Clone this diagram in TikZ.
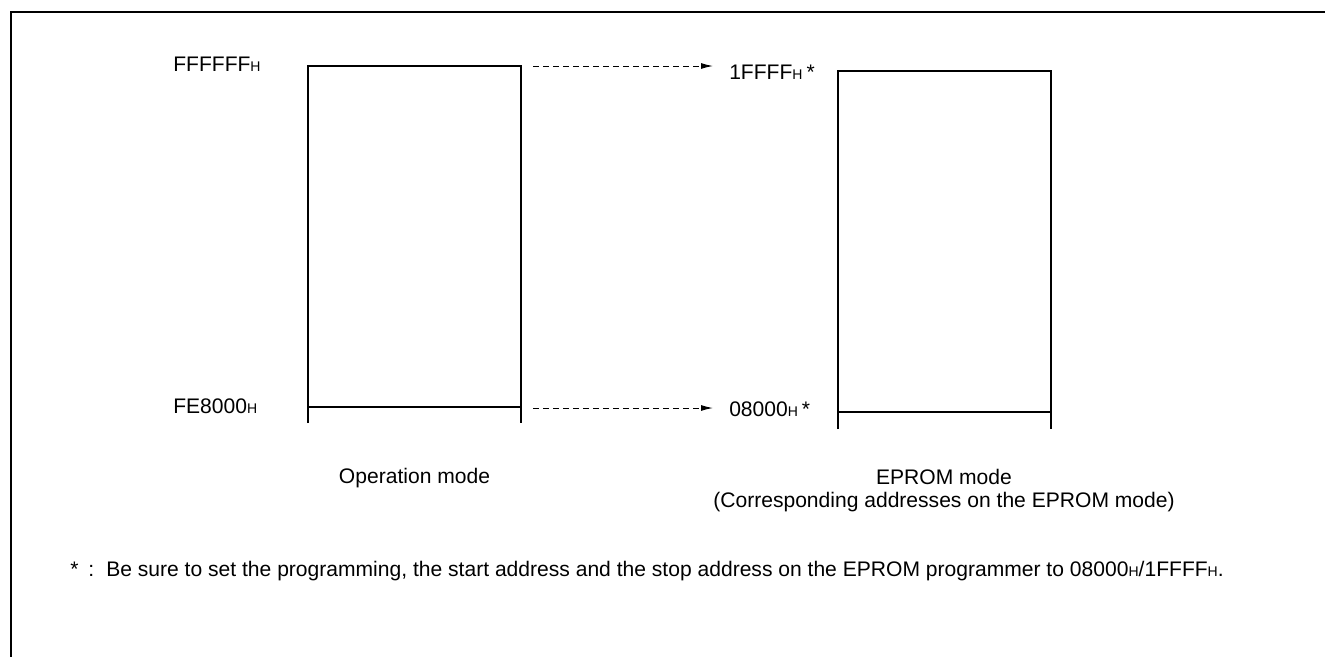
\documentclass[tikz,border=0pt]{standalone}
\usepackage{fontspec}
\setmainfont{Liberation Sans}
\usetikzlibrary{arrows.meta}
\newcommand{\subH}{{\fontsize{10.5pt}{10.5pt}\selectfont H}}
\begin{document}
\begin{tikzpicture}[x=0.75pt,y=-0.75pt,
  lbl/.style={font=\fontsize{15.8pt}{17.25pt}\selectfont, inner sep=0pt, anchor=base west},
  captext/.style={font=\fontsize{15.8pt}{17.25pt}\selectfont, inner sep=0pt, anchor=base, align=center},
  thickline/.style={line width=1.9pt},
  thinline/.style={line width=0.9pt},
  frameline/.style={line width=1.1pt},
  dasharrow/.style={dash pattern=on 4.5pt off 3pt, line width=0.75pt, -{Latex[length=9pt,width=4.5pt]}}]
\useasboundingbox (0,0) rectangle (1325,657);
% frame
\coordinate (fr1) at (1325,12);
\coordinate (fr2) at (11,12);
\coordinate (fr3) at (11,657);
\draw[frameline] (fr1) -- (fr2) -- (fr3);
% left memory block
\coordinate (lbl1) at (308,423);
\coordinate (ltl) at (308,66);
\coordinate (ltr) at (521,66);
\coordinate (lbr) at (521,423);
\coordinate (lml) at (308,407);
\coordinate (lmr) at (521,407);
\draw[thickline] (lbl1) -- (ltl) -- (ltr) -- (lbr);
\draw[thinline] (lml) -- (lmr);
% right memory block
\coordinate (rbl) at (838,429);
\coordinate (rtl) at (838,71);
\coordinate (rtr) at (1051,71);
\coordinate (rbr) at (1051,429);
\coordinate (rml) at (838,412);
\coordinate (rmr) at (1051,412);
\draw[thickline] (rbl) -- (rtl) -- (rtr) -- (rbr);
\draw[thinline] (rml) -- (rmr);
% address labels
\node[lbl] (ffffff) at (173,71) {FFFFFF\subH};
\node[lbl] (fe8000) at (173,413) {FE8000\subH};
\node[lbl] (t1ffff) at (729,79) {1FFFF\subH\hspace{3pt}*};
\node[lbl] (t08000) at (729,416) {08000\subH\hspace{3pt}*};
% dashed arrows
\coordinate (a1s) at (533,66);
\coordinate (a2s) at (533,408);
\draw[dasharrow, shorten >=12pt] (a1s) -- (a1s -| t1ffff.west);
\draw[dasharrow, shorten >=12pt] (a2s) -- (a2s -| t08000.west);
% captions
\node[captext] (opmode) at (414.5,483) {Operation mode};
\node[captext] (epmode) at (944,507) {EPROM mode\\(Corresponding addresses on the EPROM mode)};
% footnote
\node[lbl] (note) at (70,576) {*\hspace{7.5pt}:\hspace{9pt}Be sure to set the programming, the start address and the stop address on the EPROM programmer to 08000\subH/1FFFF\subH.};
\end{tikzpicture}
\end{document}
